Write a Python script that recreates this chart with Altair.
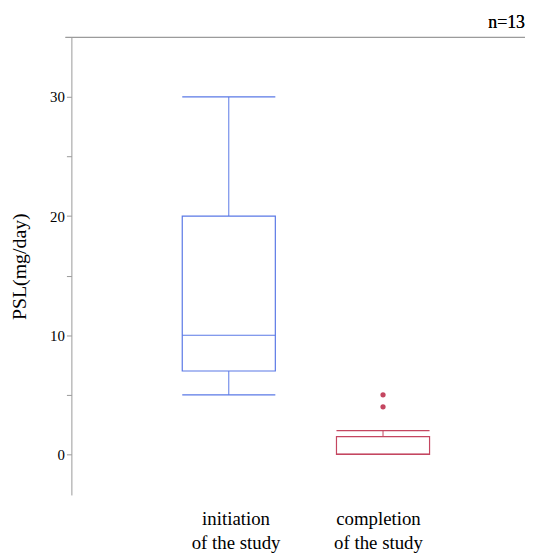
import altair as alt
import pandas as pd

groups = ["initiation\nof the study", "completion\nof the study"]
xpos = [0.347, 0.687]
label_x = [0.363, 0.677]
colors = ["#5a78e6", "#c44660"]
lower = [5, 0]
q1 = [7, 0]
median = [10, 0]
q3 = [20, 1.5]
upper = [30, 2]
out_group = [1, 1]
out_vals = [4, 5]

FONT = "Liberation Serif"
half = 0.1026
W, H = 458, 462
box = pd.DataFrame({
    "g": groups, "x": xpos, "lx": label_x, "c": colors,
    "lo": lower, "q1": q1, "med": median, "q3": q3, "hi": upper,
})
box["xl"] = box["x"] - half
box["xr"] = box["x"] + half
outs = pd.DataFrame({"x": [xpos[i] for i in out_group], "v": out_vals,
                     "c": [colors[i] for i in out_group]})

xs = alt.Scale(domain=[0, 1])
ys = alt.Scale(domain=[-3.4, 35], nice=False, zero=False)
yaxis = alt.Axis(values=[0, 5, 10, 15, 20, 25, 30], labelExpr="datum.value % 10 == 0 ? datum.label : ''",
                 grid=False, tickSize=5, tickColor="#999", domainColor="#999",
                 labelFont=FONT, labelFontSize=15, labelColor="#000",
                 titleFont=FONT, titleFontSize=20, titleFontWeight="normal",
                 titleColor="#000", title="PSL(mg/day)", titlePadding=20)
base = alt.Chart(box)
col = alt.Color("c:N", scale=None)

whisk_lo = base.mark_rule(strokeWidth=1).encode(
    x=alt.X("x:Q", scale=xs, axis=None), y=alt.Y("lo:Q", scale=ys, axis=yaxis), y2="q1:Q", color=col)
whisk_hi = base.mark_rule(strokeWidth=1).encode(x="x:Q", y="q3:Q", y2="hi:Q", color=col)
rect = base.mark_rect(fill="white", strokeWidth=1.2).encode(
    x="xl:Q", x2="xr:Q", y="q1:Q", y2="q3:Q", stroke=alt.Stroke("c:N", scale=None))
med = base.mark_rule(strokeWidth=1.2).encode(x="xl:Q", x2="xr:Q", y="med:Q", color=col)
cap_lo = base.mark_rule(strokeWidth=1.2).encode(x="xl:Q", x2="xr:Q", y="lo:Q", color=col)
cap_hi = base.mark_rule(strokeWidth=1.2).encode(x="xl:Q", x2="xr:Q", y="hi:Q", color=col)
pts = alt.Chart(outs).mark_circle(size=28, opacity=1).encode(x="x:Q", y="v:Q", color=col)
labels = base.mark_text(font=FONT, fontSize=19, lineHeight=25, lineBreak="\n",
                        baseline="top", color="#000").encode(
    x="lx:Q", y=alt.value(H + 15), text="g:N")
topline = base.mark_rule(color="#999").encode(x=alt.value(-6), x2=alt.value(W), y=alt.value(0))
ntext = base.mark_text(font=FONT, fontSize=18, fontWeight="normal", align="right",
                       baseline="bottom", color="#000").encode(
    x=alt.value(W), y=alt.value(-5), text=alt.value("n=13"))

chart = alt.layer(whisk_lo, whisk_hi, rect, med, cap_lo, cap_hi, pts, labels, topline, ntext).properties(
    width=W, height=H, autosize=alt.AutoSizeParams(type="none"),
    padding={"left": 64, "top": 27, "right": 0, "bottom": 60},
).configure_view(stroke=None)

chart.save("out.html", embed_options={"renderer": "svg", "actions": False})
